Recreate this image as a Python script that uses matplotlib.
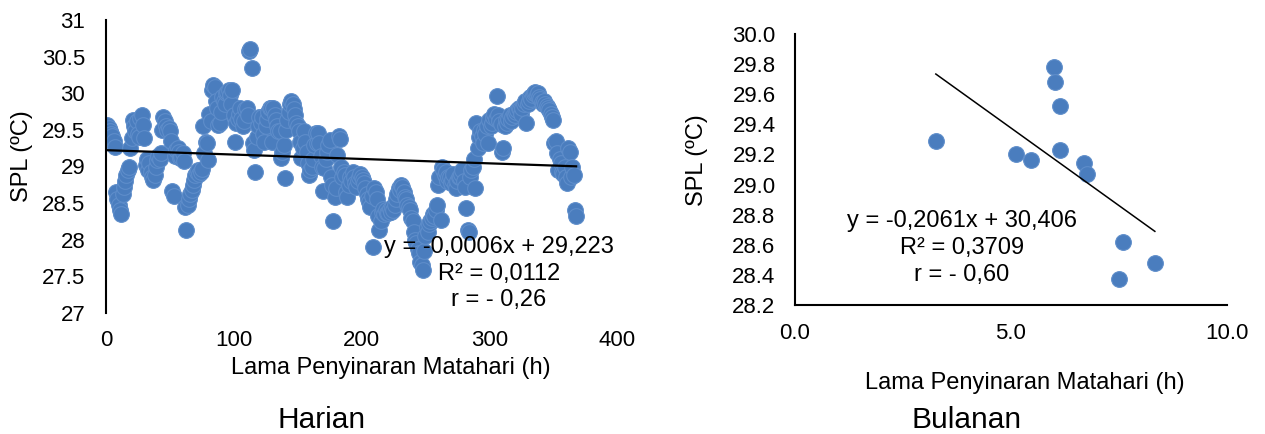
import matplotlib
matplotlib.use("Agg")
import matplotlib.pyplot as plt
import numpy as np

plt.rcParams['font.family'] = ['Liberation Sans', 'DejaVu Sans']

# Daily sea surface temperature (SPL, degC), one value per day
spl_daily = [
    29.56, 29.52, 29.48, 29.45, 29.41, 29.35, 29.27, 28.65, 28.56, 28.48,
    28.40, 28.35, 28.62, 28.72, 28.80, 28.88, 28.95, 29.00, 29.25, 29.39,
    29.63, 29.55, 29.48, 29.62, 29.45, 29.40, 29.66, 29.70, 29.56, 29.39,
    29.02, 29.10, 28.95, 29.05, 28.92, 28.85, 28.81, 28.88, 29.00, 29.09,
    29.15, 29.10, 29.18, 29.50, 29.68, 29.62, 29.55, 29.50, 29.52, 29.48,
    29.35, 28.66, 28.60, 29.15, 29.22, 29.25, 29.20, 29.12, 29.13, 29.18,
    29.08, 28.45, 28.13, 28.48, 28.55, 28.62, 28.68, 28.75, 28.82, 28.88,
    28.92, 28.95, 28.90, 28.92, 28.96, 29.55, 29.18, 29.34, 29.32, 29.09,
    29.72, 29.62, 30.04, 30.11, 30.09, 29.90, 29.80, 29.56, 29.60, 29.75,
    29.95, 29.90, 29.85, 30.00, 30.02, 30.04, 29.98, 29.85, 30.04, 29.70,
    29.34, 29.59, 29.65, 29.72, 29.80, 29.65, 29.55, 29.62, 29.78, 29.80,
    29.70, 30.57, 30.60, 30.35, 29.32, 29.22, 28.93, 29.40, 29.55, 29.68,
    29.60, 29.68, 29.45, 29.34, 29.55, 29.65, 29.75, 29.80, 29.80, 29.34,
    29.80, 29.70, 29.63, 29.55, 29.48, 29.48, 29.11, 29.20, 29.29, 28.84,
    29.50, 29.63, 29.75, 29.85, 29.90, 29.85, 29.78, 29.70, 29.60, 29.55,
    29.48, 29.34, 29.11, 29.25, 29.48, 29.34, 29.20, 29.05, 28.88, 28.95,
    29.00, 29.10, 29.30, 29.46, 29.32, 29.46, 29.32, 29.15, 29.00, 28.66,
    28.98, 29.10, 29.20, 29.30, 29.36, 28.85, 28.75, 28.25, 28.59, 28.70,
    29.16, 29.41, 29.38, 29.00, 28.85, 28.93, 28.88, 28.65, 28.59, 28.75,
    28.85, 28.80, 28.92, 28.86, 28.77, 28.72, 28.80, 28.86, 28.90, 28.86,
    28.82, 28.77, 28.70, 28.62, 28.55, 28.52, 28.45, 28.60, 27.90, 28.70,
    28.65, 28.55, 28.32, 28.13, 28.25, 28.38, 28.42, 28.35, 28.40, 28.36,
    28.36, 28.42, 28.38, 28.45, 28.40, 28.48, 28.55, 28.62, 28.70, 28.68,
    28.75, 28.72, 28.65, 28.59, 28.55, 28.48, 28.45, 28.41, 28.30, 28.25,
    28.10, 28.00, 27.95, 27.88, 27.82, 27.70, 27.65, 27.59, 27.85, 28.05,
    28.18, 28.10, 28.22, 28.25, 28.30, 28.35, 28.32, 28.40, 28.47, 28.75,
    28.85, 28.27, 29.00, 28.95, 28.88, 28.92, 28.80, 28.85, 28.86, 28.78,
    28.82, 28.90, 28.75, 28.70, 28.80, 28.86, 28.86, 28.90, 28.95, 28.80,
    28.72, 28.43, 28.13, 28.10, 28.85, 28.95, 29.00, 29.10, 28.70, 29.59,
    29.25, 29.40, 29.48, 29.41, 29.32, 29.50, 29.45, 29.55, 29.32, 29.63,
    29.55, 29.60, 29.68, 29.72, 29.65, 29.96, 29.70, 29.62, 29.58, 29.20,
    29.25, 29.55, 29.63, 29.60, 29.65, 29.70, 29.62, 29.68, 29.72, 29.70,
    29.75, 29.77, 29.80, 29.78, 29.72, 29.80, 29.85, 29.90, 29.60, 29.86,
    29.90, 29.95, 29.92, 29.98, 30.00, 30.02, 29.98, 30.00, 29.95, 29.92,
    29.88, 29.86, 29.90, 29.86, 29.82, 29.80, 29.77, 29.72, 29.68, 29.63,
    29.32, 29.35, 29.18, 28.95, 29.10, 29.05, 28.92, 28.90, 29.00, 28.85,
    28.77, 29.25, 29.20, 28.86, 29.00, 28.88, 28.40, 28.32,
]
day_index = list(range(1, len(spl_daily) + 1))

# Monthly mean sunshine duration (h) and SPL (degC)
sun_monthly = [3.26, 6.00, 6.02, 6.13, 6.14, 5.12, 5.46, 6.70, 6.77, 7.60, 8.33, 7.50]
spl_monthly = [29.29, 29.78, 29.68, 29.52, 29.23, 29.20, 29.16, 29.14, 29.07, 28.62, 28.48, 28.37]

# Linear trend coefficients (slope, intercept)
trend_daily = (-0.0006, 29.223)
trend_monthly = (-0.2061, 30.406)

eq_daily = ["y = -0,0006x + 29,223", "R² = 0,0112", "r = - 0,26"]
eq_monthly = ["y = -0,2061x + 30,406", "R² = 0,3709", "r = - 0,60"]

x_label = "Lama Penyinaran Matahari (h)"
y_label = "SPL (ºC)"
titles = ["Harian", "Bulanan"]

W, H = 1265, 434
dot_face = "#4A7DBE"
dot_edge = "#5E8DCA"
dot_size = 128
tick_fs = 16
lab_fs = 17
eq_fs = 17
title_fs = 21.5

fig = plt.figure(figsize=(W / 100, H / 100), dpi=100)


def px(x, y):
    return x / W, 1 - y / H


# ---- daily panel ----
ax1 = fig.add_axes([106 / W, 1 - 313 / H, (617 - 106) / W, (313 - 20) / H])
ax1.scatter(day_index, spl_daily, s=dot_size, color=dot_face, edgecolor=dot_edge,
            linewidth=0.8, zorder=2)
xd = np.array([day_index[0], day_index[-1]])
ax1.plot(xd, trend_daily[0] * xd + trend_daily[1], color="black", lw=1.6, zorder=3)
ax1.set_xlim(0, 400)
ax1.set_ylim(27, 31)
ax1.set_xticks([0, 100, 200, 300, 400])
ax1.set_yticks(np.arange(27, 31.01, 0.5))
ax1.set_yticklabels([f"{v:g}" for v in np.arange(27, 31.01, 0.5)])
for s in ["top", "right", "bottom"]:
    ax1.spines[s].set_visible(False)
ax1.spines["left"].set_linewidth(1.5)
ax1.tick_params(axis="both", length=0, labelsize=tick_fs)
ax1.tick_params(axis="y", pad=15)
ax1.tick_params(axis="x", pad=12)

# ---- monthly panel ----
ax2 = fig.add_axes([795 / W, 1 - 305 / H, (1227 - 795) / W, (305 - 34) / H])
ax2.scatter(sun_monthly, spl_monthly, s=dot_size, color=dot_face, edgecolor=dot_edge,
            linewidth=0.8, zorder=2)
xm = np.array([min(sun_monthly), max(sun_monthly)])
ax2.plot(xm, trend_monthly[0] * xm + trend_monthly[1], color="black", lw=1.1, zorder=3)
ax2.set_xlim(0, 10)
ax2.set_ylim(28.2, 30.0)
ax2.set_xticks([0, 5, 10])
ax2.set_xticklabels(["0.0", "5.0", "10.0"])
yt = np.round(np.arange(28.2, 30.01, 0.2), 1)
ax2.set_yticks(yt)
ax2.set_yticklabels([f"{v:.1f}" for v in yt])
for s in ["top", "right"]:
    ax2.spines[s].set_visible(False)
for s in ["left", "bottom"]:
    ax2.spines[s].set_linewidth(1.5)
ax2.tick_params(axis="both", length=0, labelsize=tick_fs)
ax2.tick_params(axis="y", pad=14)
ax2.tick_params(axis="x", pad=13)

for a in (ax1, ax2):
    a.set_facecolor("none")
    a.patch.set_alpha(0)

# ---- equations ----
for txt, yy in zip(eq_daily, [247, 274, 300]):
    fig.text(*px(499, yy), txt, ha="center", va="center", fontsize=eq_fs)
for txt, yy in zip(eq_monthly, [221, 248, 275]):
    fig.text(*px(962, yy), txt, ha="center", va="center", fontsize=eq_fs)

# ---- axis labels and titles ----
fig.text(*px(391, 368), x_label, ha="center", va="center", fontsize=lab_fs)
fig.text(*px(1025, 383), x_label, ha="center", va="center", fontsize=lab_fs)
fig.text(*px(22, 156), y_label, ha="center", va="center", rotation=90, fontsize=lab_fs)
fig.text(*px(697, 160), y_label, ha="center", va="center", rotation=90, fontsize=lab_fs)
fig.text(*px(322, 420), titles[0], ha="center", va="center", fontsize=title_fs)
fig.text(*px(967, 420), titles[1], ha="center", va="center", fontsize=title_fs)

fig.savefig("out.png", dpi=100, facecolor="white")
